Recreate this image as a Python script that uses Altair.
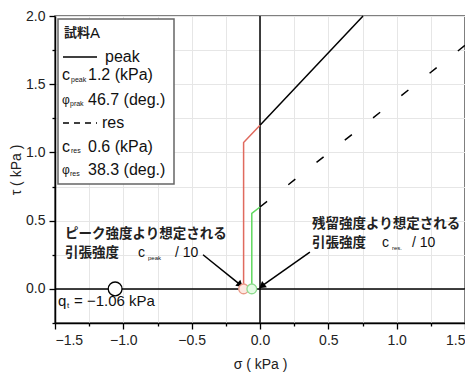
import altair as alt
import pandas as pd

# ---- data ----
peak_sigma = [0.0, 0.754]
peak_tau = [1.2, 2.0]
res_sigma = [0.0, 1.5]
res_tau = [0.6, 1.785]
peak_cut_sigma = [-0.12, -0.12, 0.0]
peak_cut_tau = [0.0, 1.073, 1.2]
res_cut_sigma = [-0.06, -0.06, 0.0]
res_cut_tau = [0.0, 0.553, 0.6]
qt_sigma = [-1.06]
qt_tau = [0.0]
tension_sigma = [-0.12, -0.06]
tension_tau = [0.0, 0.0]
tension_kind = ["peak", "res"]
x_ticks = [-1.5, -1.25, -1.0, -0.75, -0.5, -0.25, 0.0, 0.25, 0.5, 0.75, 1.0, 1.25, 1.5]
y_ticks = [-0.25, 0.0, 0.25, 0.5, 0.75, 1.0, 1.25, 1.5, 1.75, 2.0]

# arrows (start -> end, data coords)
arrow_x = [-0.417, 0.365]
arrow_y = [0.25, 0.27]
arrow_x2 = [-0.15, 0.02]
arrow_y2 = [0.035, 0.025]
arrow_ang = [130, 232]

W, H = 410, 307
LATIN = "Liberation Sans"
CJK = "Noto Sans CJK JP"

xs = alt.Scale(domain=[-1.5, 1.5], nice=False, zero=False)
ys = alt.Scale(domain=[-0.25, 2.0], nice=False, zero=False)

label_expr = "abs(datum.value % 0.5) < 1e-9 ? format(datum.value, '.1f') : ''"
tick_size = {"condition": {"test": "abs(datum.value % 0.5) < 1e-9", "value": 6}, "value": 3}

x_axis = alt.Axis(values=x_ticks, labelExpr=label_expr, tickSize=tick_size,
                  title="σ ( kPa )", grid=True, labelPadding=4, titlePadding=10)
y_axis = alt.Axis(values=y_ticks, labelExpr=label_expr, tickSize=tick_size,
                  title="τ ( kPa )", grid=True, labelPadding=4, titlePadding=2)

peak_df = pd.DataFrame({"s": peak_sigma, "t": peak_tau})
res_df = pd.DataFrame({"s": res_sigma, "t": res_tau})
pc_df = pd.DataFrame({"s": peak_cut_sigma, "t": peak_cut_tau, "o": [0, 1, 2]})
rc_df = pd.DataFrame({"s": res_cut_sigma, "t": res_cut_tau, "o": [0, 1, 2]})

peak = alt.Chart(peak_df).mark_line(color="black", strokeWidth=1.5).encode(
    x=alt.X("s:Q", scale=xs, axis=x_axis),
    y=alt.Y("t:Q", scale=ys, axis=y_axis),
)
res = alt.Chart(res_df).mark_line(color="black", strokeWidth=1.5, strokeDash=[9, 27]).encode(
    x=alt.X("s:Q", scale=xs, axis=None), y=alt.Y("t:Q", scale=ys, axis=None))
pc = alt.Chart(pc_df).mark_line(color="#e06a5e", strokeWidth=1.5).encode(
    x=alt.X("s:Q", scale=xs, axis=None), y=alt.Y("t:Q", scale=ys, axis=None), order="o:Q")
rc = alt.Chart(rc_df).mark_line(color="#5fd85f", strokeWidth=1.5).encode(
    x=alt.X("s:Q", scale=xs, axis=None), y=alt.Y("t:Q", scale=ys, axis=None), order="o:Q")

zero_v = alt.Chart(pd.DataFrame({"s": [0.0]})).mark_rule(color="black", strokeWidth=1.5).encode(
    x=alt.X("s:Q", scale=xs, axis=None))
zero_h = alt.Chart(pd.DataFrame({"t": [0.0]})).mark_rule(color="black", strokeWidth=1.5).encode(
    y=alt.Y("t:Q", scale=ys, axis=None))

qt = alt.Chart(pd.DataFrame({"s": qt_sigma, "t": qt_tau})).mark_point(
    shape="circle", size=190, filled=False, fill="white", fillOpacity=1, stroke="black", strokeWidth=1.3).encode(
    x=alt.X("s:Q", scale=xs, axis=None), y=alt.Y("t:Q", scale=ys, axis=None))

tens = alt.Chart(pd.DataFrame({"s": tension_sigma, "t": tension_tau, "k": tension_kind})).mark_point(
    shape="circle", size=95, filled=False, fillOpacity=1, strokeWidth=1.3).encode(
    x=alt.X("s:Q", scale=xs, axis=None), y=alt.Y("t:Q", scale=ys, axis=None),
    stroke=alt.Stroke("k:N", scale=alt.Scale(domain=["peak", "res"], range=["#e99a88", "#8fdc8f"]), legend=None),
    fill=alt.Fill("k:N", scale=alt.Scale(domain=["peak", "res"], range=["#fde9e2", "#e4fbe4"]), legend=None),
)

arrows_df = pd.DataFrame({"x": arrow_x, "y": arrow_y, "x2": arrow_x2, "y2": arrow_y2, "a": arrow_ang})
arrow_lines = alt.Chart(arrows_df).mark_rule(color="black", strokeWidth=1.5).encode(
    x=alt.X("x:Q", scale=xs, axis=None), y=alt.Y("y:Q", scale=ys, axis=None), x2="x2:Q", y2="y2:Q")
arrow_heads = alt.Chart(arrows_df).mark_point(shape="triangle", filled=True, color="black", size=60, opacity=1).encode(
    x=alt.X("x2:Q", scale=xs, axis=None), y=alt.Y("y2:Q", scale=ys, axis=None),
    angle=alt.Angle("a:Q", scale=None))

# legend box (pixel layout)
box = alt.Chart(pd.DataFrame({"a": [0]})).mark_rect(fill="white", stroke="#666", strokeWidth=1.5).encode(
    x=alt.value(3), x2=alt.value(119), y=alt.value(3), y2=alt.value(168))
leg_solid = alt.Chart(pd.DataFrame({"a": [0]})).mark_rule(color="black", strokeWidth=1.5).encode(
    x=alt.value(8), x2=alt.value(42), y=alt.value(41))
leg_dash = alt.Chart(pd.DataFrame({"a": [0]})).mark_rule(color="black", strokeWidth=1.5, strokeDash=[6, 5]).encode(
    x=alt.value(8), x2=alt.value(42), y=alt.value(107))

latin_txt = ["peak", "c", "peak", "1.2 (kPa)", "φ", "prak", "46.7 (deg.)",
             "res", "c", "res", "0.6 (kPa)", "φ", "res", "38.3 (deg.)",
             "A",
             "c", "peak", "/ 10",
             "c", "res.", "/ 10",
             "q", "t", "= −1.06 kPa"]
latin_px = [50, 7, 16, 33, 7, 15, 33,
            47, 7, 16, 33, 7, 15, 33,
            35,
            83, 93, 120,
            327, 337, 357,
            3, 12, 19]
latin_py = [41, 59, 64, 59, 84, 88, 84,
            107, 131, 135, 131, 154, 158, 154,
            17,
            237, 242, 237,
            227, 232, 227,
            285, 290, 285]
latin_fs = [16, 16, 7, 16, 12, 7, 16,
            16, 16, 7, 16, 12, 7, 16,
            15,
            14, 6, 14,
            14, 6, 14,
            15, 8, 15]

cjk_txt = ["試料", "ピーク強度より想定される", "引張強度", "残留強度より想定される", "引張強度"]
cjk_px = [9, 10, 10, 257, 257]
cjk_py = [17, 218, 237, 208, 227]
cjk_fs = [13, 13.5, 13.5, 13.5, 13.5]

lat_df = pd.DataFrame({"px": latin_px, "py": latin_py, "txt": latin_txt, "fs": latin_fs})
cjk_df = pd.DataFrame({"px": cjk_px, "py": cjk_py, "txt": cjk_txt, "fs": cjk_fs})

lat_text = alt.Chart(lat_df).mark_text(align="left", baseline="middle", font=LATIN, color="#111").encode(
    x=alt.X("px:Q", scale=None, axis=None), y=alt.Y("py:Q", scale=None, axis=None),
    text="txt:N", size=alt.Size("fs:Q", scale=None, legend=None))
cjk_text = alt.Chart(cjk_df).mark_text(align="left", baseline="middle", font=CJK, fontWeight="bold",
                                       color="#222").encode(
    x=alt.X("px:Q", scale=None, axis=None), y=alt.Y("py:Q", scale=None, axis=None),
    text="txt:N", size=alt.Size("fs:Q", scale=None, legend=None))

chart = alt.layer(
    peak, res, zero_v, zero_h, pc, rc, arrow_lines, arrow_heads, qt, tens,
    box, leg_solid, leg_dash, lat_text, cjk_text
).resolve_scale(x="independent", y="independent").properties(
    width=W, height=H,
    autosize=alt.AutoSizeParams(type="none"),
    padding={"left": 47, "top": 8, "right": 0, "bottom": 52},
).configure_view(stroke="#555", strokeWidth=1.5).configure_axis(
    labelFont=LATIN, labelFontSize=14, labelColor="#222",
    titleFont=LATIN, titleFontSize=14, titleFontWeight="normal", titleColor="#222",
    domainColor="black", domainWidth=1.5, tickColor="black", tickWidth=1.3,
    gridColor="#e6e6e6", gridWidth=1,
)

chart.save("out.html", embed_options={"renderer": "svg", "actions": False})
